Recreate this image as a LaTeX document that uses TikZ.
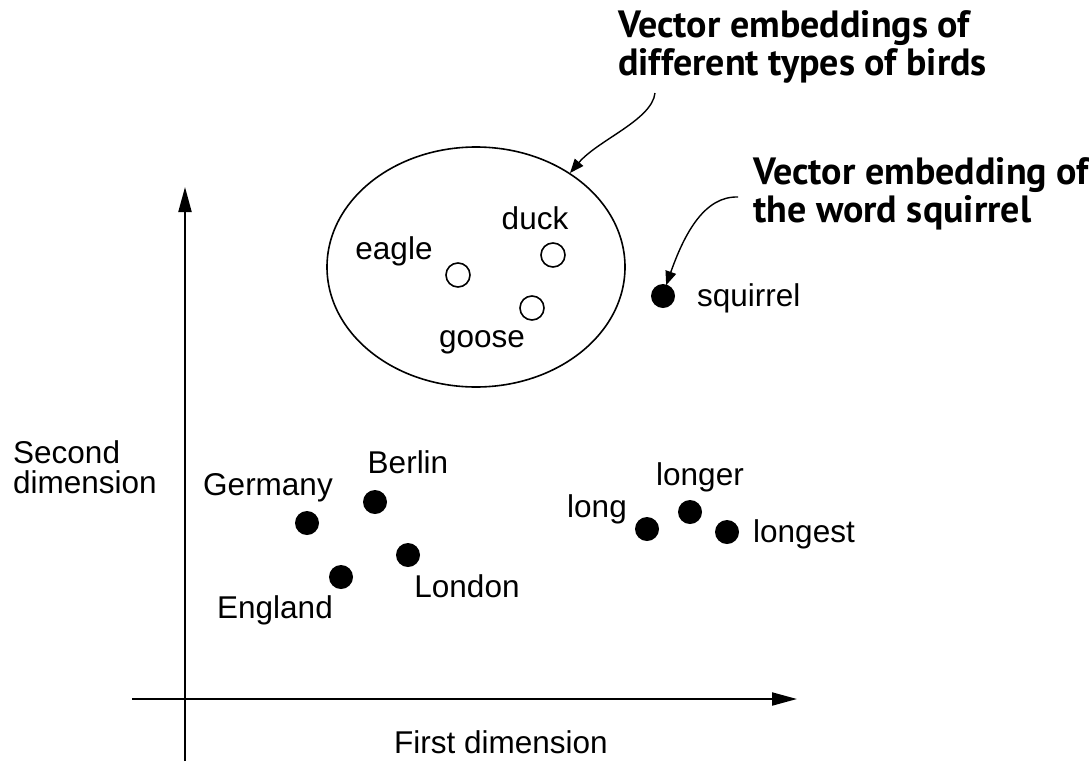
\documentclass[tikz,border=0pt]{standalone}
\usepackage{fontspec}
\setmainfont{Liberation Sans}
\newfontfamily\titlefont{PT Sans}
\usetikzlibrary{arrows.meta,shapes.geometric}
\begin{document}
\begin{tikzpicture}[x=1pt,y=-1pt,
  dot/.style={circle,fill=black,inner sep=0pt,minimum size=24pt},
  odot/.style={circle,draw=black,line width=1.6pt,fill=white,inner sep=0pt,minimum size=24pt},
  lbl/.style={font=\fontsize{31.5}{36}\selectfont,anchor=base,inner sep=0pt},
  ttl/.style={font=\titlefont\bfseries\fontsize{38}{37.5}\selectfont,align=left,anchor=base west,inner sep=0pt},
  axisline/.style={line width=2pt,-{Triangle[length=25pt,width=13pt]}},
  callout/.style={line width=1.4pt,-{Triangle[length=14pt,width=11pt]}}]
\useasboundingbox (0,0) rectangle (1089,761);

% axes
\coordinate (yb) at (185,761);
\coordinate (yt) at (185,187);
\coordinate (xl) at (132,699);
\coordinate (xr) at (797,699);
\draw[axisline] (yb) -- (yt);
\draw[axisline] (xl) -- (xr);
\node[lbl] (xlab) at (501,753) {First dimension};
\node[lbl,anchor=base west,align=left,font=\fontsize{31.5}{30}\selectfont] (ylab) at (13,493) {Second\\dimension};

% birds cluster
\node[ellipse,draw,line width=1.6pt,minimum width=298pt,minimum height=240pt,inner sep=0pt] (birds) at (476,267) {};
\node[odot] (eagle) at (458,275) {};
\node[odot] (duck) at (553,255) {};
\node[odot] (goose) at (532,308) {};
\node[lbl] (eaglel) at (394,259) {eagle};
\node[lbl] (duckl) at (535,229) {duck};
\node[lbl] (goosel) at (482,347) {goose};

% squirrel
\node[dot] (sq) at (663,296) {};
\node[lbl,anchor=base west] (sql) at (697,306) {squirrel};

% countries and capitals
\node[dot] (germany) at (307,523) {};
\node[dot] (berlin) at (375,502) {};
\node[dot] (london) at (408,555) {};
\node[dot] (england) at (341,577) {};
\node[lbl] (germanyl) at (268,495) {Germany};
\node[lbl] (berlinl) at (408,473) {Berlin};
\node[lbl] (londonl) at (467,597) {London};
\node[lbl] (englandl) at (275,618) {England};

% long group
\node[dot] (long) at (647,529) {};
\node[dot] (longer) at (690,512) {};
\node[dot] (longest) at (727,532) {};
\node[lbl] (longl) at (597,517) {long};
\node[lbl] (longerl) at (700,485) {longer};
\node[lbl] (longestl) at (804,542) {longest};

% titles
\node[ttl] (t1) at (618,75) {Vector embeddings of\\different types of birds};
\node[ttl] (t2) at (753,222) {Vector embedding of\\the word squirrel};

\coordinate (c1) at (655,93);
\coordinate (c2) at (738,197);
\draw[callout] (c1) .. controls (652,120) and (598,140) .. (birds.45);
\draw[callout] (c2) .. controls (705,196) and (685,232) .. ([yshift=-1pt]sq.75);
\end{tikzpicture}
\end{document}
